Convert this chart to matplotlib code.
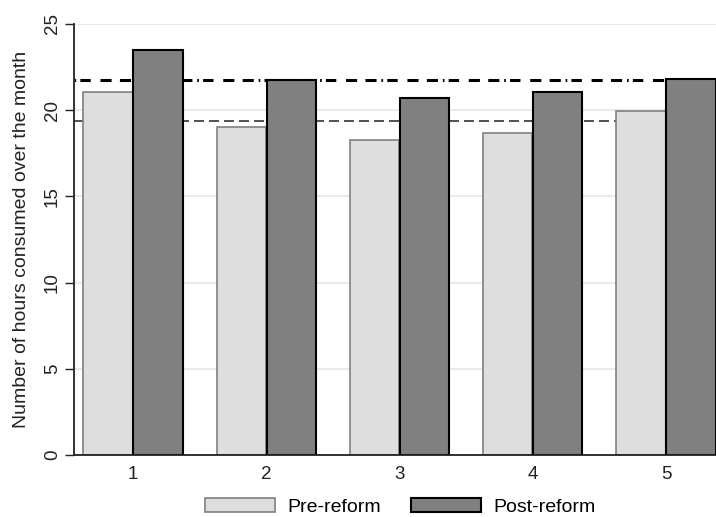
import numpy as np
import matplotlib.pyplot as plt
from matplotlib.patches import Patch

plt.rcParams['font.family'] = ['Liberation Sans', 'DejaVu Sans']
plt.rcParams['lines.scale_dashes'] = False

groups = [1, 2, 3, 4, 5]
pre_reform = [21.07, 19.03, 18.27, 18.66, 19.95]
post_reform = [23.49, 21.75, 20.69, 21.07, 21.79]
pre_mean = 19.40
post_mean = 21.76
y_ticks = [0, 5, 10, 15, 20, 25]

fig = plt.figure(figsize=(7.16, 5.17), dpi=100)
ax = fig.add_axes([0.1034, 0.1199, 0.8966, 0.8337])

x = np.array(groups)
w = 0.37
off = 0.1876

# mean lines, drawn behind the bars
ax.axhline(pre_mean, color='#333333', lw=1.2, ls=(0, (7.2, 3.6)), zorder=1)
ax.axhline(post_mean, color='black', lw=2.2,
           ls=(0, (1.2, 3, 7.5, 7, 8, 6, 8, 3.5)), zorder=1)

ax.bar(x - off, pre_reform, width=w, color='#dedede', edgecolor='#808080', lw=1.2, zorder=2)
ax.bar(x + off, post_reform, width=w, color='#808080', edgecolor='black', lw=1.5, zorder=2)

ax.set_xlim(0.557, 5.375)
ax.set_ylim(0, 25)
ax.set_yticks(y_ticks)
ax.set_xticks(groups)
ax.grid(axis='y', color='#e6e6e6', lw=1.2, zorder=0)
ax.set_axisbelow(True)

for s in ['top', 'right']:
    ax.spines[s].set_visible(False)
ax.spines['left'].set_color('#222222')
ax.spines['bottom'].set_color('#222222')
ax.spines['left'].set_linewidth(1.3)
ax.spines['bottom'].set_linewidth(1.3)

ax.tick_params(axis='y', length=6.5, width=1, colors='#222222', labelsize=13.5,
               labelrotation=90, pad=3)
ax.tick_params(axis='x', length=0, labelsize=13.5, colors='#222222', pad=8)
for lab in ax.get_yticklabels():
    lab.set_verticalalignment('center')

ax.set_ylabel('Number of hours consumed over the month', fontsize=14, color='#222222', labelpad=10)

handles = [Patch(facecolor='#dedede', edgecolor='#808080', lw=1.2, label='Pre-reform'),
           Patch(facecolor='#808080', edgecolor='black', lw=1.5, label='Post-reform')]
fig.legend(handles=handles, loc='upper center', bbox_to_anchor=(0.559, 0.064), ncol=2,
           frameon=False, fontsize=14, handlelength=3.6, handleheight=0.8,
           handletextpad=0.62, columnspacing=1.54, borderpad=0.2)

fig.savefig('out.png', dpi=100)
